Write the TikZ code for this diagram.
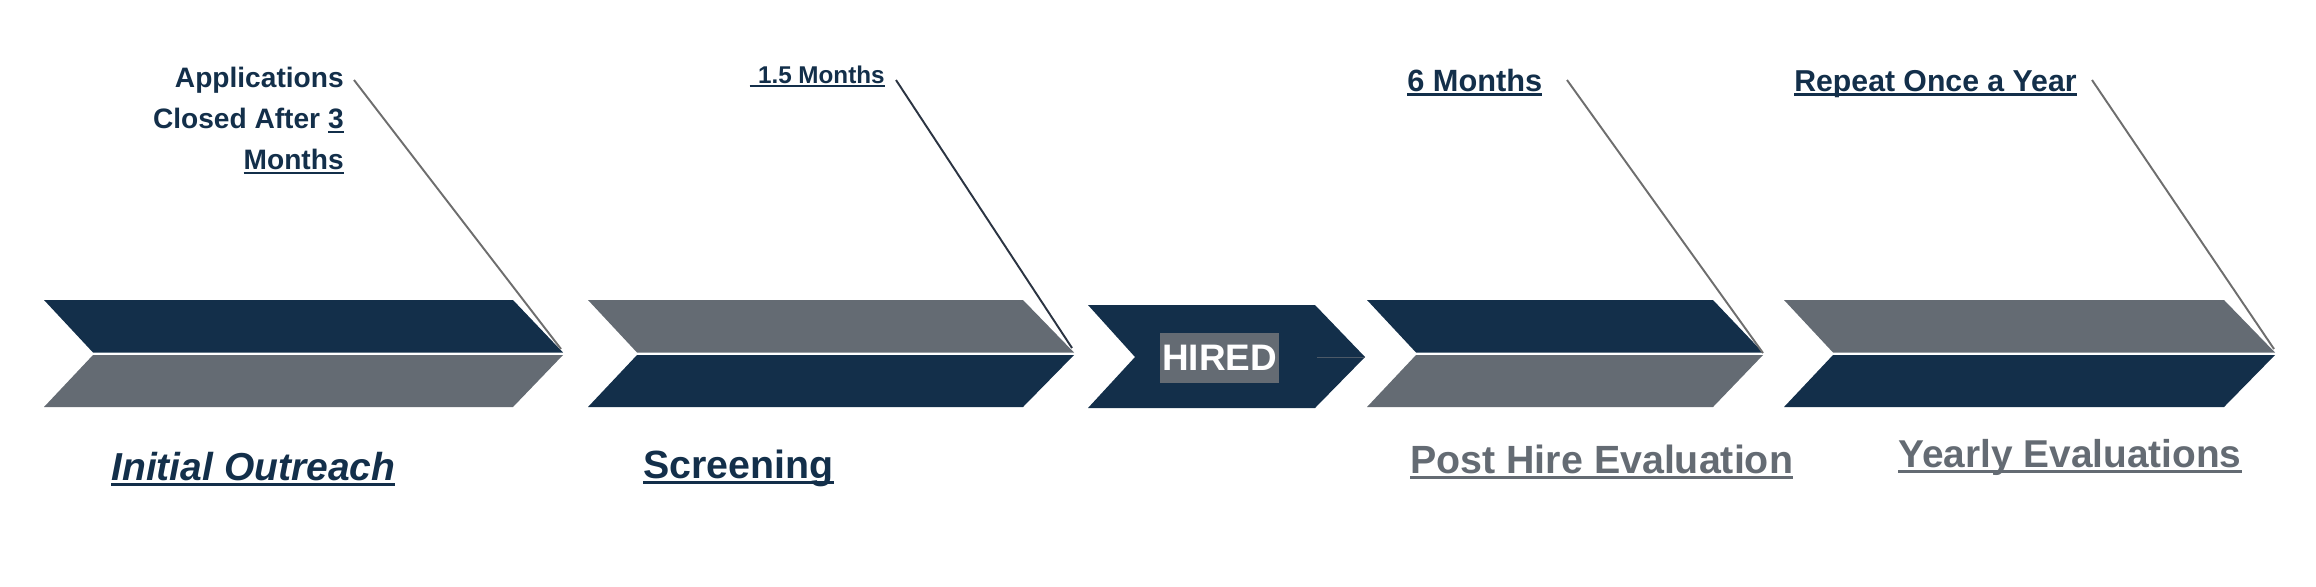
\documentclass[tikz,border=0pt]{standalone}
\usepackage{fontspec}
\setmainfont{Liberation Sans}
\definecolor{navy}{HTML}{132F4A}
\definecolor{slate}{HTML}{646B73}
\definecolor{leadgray}{HTML}{6E6E6E}
\definecolor{leaddark}{HTML}{2B3442}
\newsavebox\ulbox
\newcommand\ulx[1]{\leavevmode\sbox\ulbox{#1}\rlap{\rule[-0.15em]{\wd\ulbox}{0.075em}}\usebox\ulbox}
\newcommand\twoband[6]{%
  \fill[#5] (#1,300) -- (#3,300) -- (#4,352.5) -- (#2,352.5) -- cycle;
  \fill[#6] (#2,355) -- (#4,355) -- (#3,407) -- (#1,407) -- cycle;}
\tikzset{
  toplabel/.style={inner sep=0pt, text=navy, font=\bfseries\fontsize{17}{20}\selectfont},
  botlabel/.style={inner sep=0pt, font=\bfseries\fontsize{22.4}{26}\selectfont},
  leader/.style={line width=1.1pt, draw=leadgray},
}
\begin{document}
\begin{tikzpicture}[x=0.02cm, y=-0.02cm]
\useasboundingbox (0,0) rectangle (2316,586);
% chevrons
\twoband{44}{93}{513}{563}{navy}{slate}
\twoband{588}{637}{1023}{1074}{slate}{navy}
\twoband{1367}{1416}{1713}{1763}{navy}{slate}
\twoband{1784}{1833}{2224}{2275}{slate}{navy}
\fill[navy] (1088,305) -- (1315,305) -- (1365,357) -- (1315,408) -- (1088,408) -- (1135,357) -- cycle;
\draw[line width=0.4pt, draw=slate!70!navy] (1317,357) -- (1365,357);
\node[fill=slate, text=white, inner sep=0pt, minimum width=2.38cm, minimum height=1.0cm,
      font=\bfseries\fontsize{21}{24}\selectfont] (hired) at (1219.5,358) {HIRED};
% tip coordinates
\coordinate (tip1) at (561,349);
\coordinate (tip2) at (1072,348);
\coordinate (tip4) at (1763,353);
\coordinate (tip5) at (2274,349);
\coordinate (s1) at (354,80);
\coordinate (s2) at (896,80);
\coordinate (s4) at (1567,80);
\coordinate (s5) at (2092,80);
% top labels
\node[toplabel, font=\bfseries\fontsize{16}{23.3}\selectfont, align=right, anchor=north east] (lab1) at (344,67)
  {Applications\\Closed After \ulx{3}\\\ulx{Months}};
\node[toplabel, font=\bfseries\fontsize{13.8}{16}\selectfont, anchor=base east] (lab2) at (885,83)
  {\ulx{\hspace{0.35em}1.5 Months}};
\node[toplabel, font=\bfseries\fontsize{17.5}{20}\selectfont, anchor=base west] (lab4) at (1407,91)
  {\ulx{6 Months}};
\node[toplabel, font=\bfseries\fontsize{17.2}{20}\selectfont, anchor=base west] (lab5) at (1794,91)
  {\ulx{Repeat Once a Year}};
% leaders
\draw[leader] (s1) -- (tip1);
\draw[leader, draw=leaddark] (s2) -- (tip2);
\draw[leader] (s4) -- (tip4);
\draw[leader] (s5) -- (tip5);
% bottom labels
\node[botlabel, text=navy, font=\bfseries\itshape\fontsize{22.2}{26}\selectfont, anchor=base west] (b1) at (111,480)
  {\ulx{Initial Outreach}};
\node[botlabel, text=navy, anchor=base west] (b2) at (643,478) {\ulx{Screening}};
\node[botlabel, text=slate, anchor=base west] (b4) at (1410,473) {\ulx{Post Hire Evaluation}};
\node[botlabel, text=slate, font=\bfseries\fontsize{22.1}{26}\selectfont, anchor=base west] (b5) at (1898,467) {\ulx{Yearly Evaluations}};
\end{tikzpicture}
\end{document}
